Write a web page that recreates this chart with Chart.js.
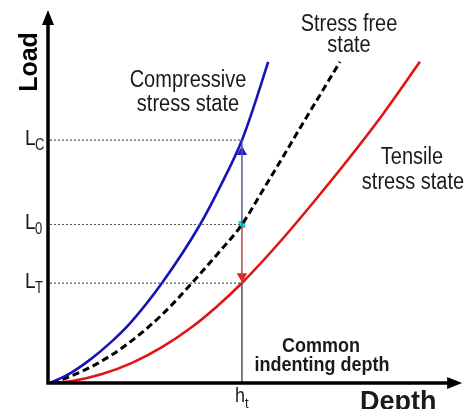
<!DOCTYPE html>
<html>
<head>
<meta charset="utf-8">
<script src="https://cdn.jsdelivr.net/npm/chart.js@4"></script>
<style>
    body { margin: 0; background: #fff; }
    canvas { display: block; }
</style>
</head>
<body>
<canvas id="myChart" width="466" height="409"></canvas>
<script>
// curve data (depth, load), arbitrary units 0..100
const compX = [0.5, 5.4, 10.2, 15.1, 20.0, 27.8, 37.1, 42.2, 47.3, 50.5, 53.7]
const compY = [0, 2.6, 6.2, 10.7, 16.0, 26.8, 42.5, 53.1, 65.1, 75.1, 86.1]

const freeX = [1.0, 4.6, 12.0, 19.3, 27.8, 35.1, 41.5, 47.3, 52.4, 57.3, 62.2, 67.1, 71.2]
const freeY = [0, 1.4, 5.2, 10.4, 18.3, 26.8, 34.8, 42.5, 51.7, 60.6, 69.7, 78.6, 86.1]

const tensX = [1.0, 5.9, 13.2, 20.5, 27.8, 35.1, 41.2, 47.3, 55.9, 64.4, 72.9, 81.5, 90.7]
const tensY = [0, 0.5, 2.4, 5.4, 9.6, 15.0, 20.5, 26.8, 37.0, 48.0, 59.5, 71.8, 86.1]

// common indenting depth and the three loads
const ht = 47.3
const levels = [65.1, 42.5, 26.8]
const levelSubs = ['C', '0', 'T']

const pts = (xs, ys) => xs.map((x, i) => ({x: x, y: ys[i]}))

const textColor = '#1a1a1a'

// small helper, text is a bit taller than wide in the picture
function label(ctx, str, x, y, font, align, sy) {
    ctx.save()
    ctx.translate(x, y)
    ctx.scale(1, sy || 1.15)
    ctx.font = font
    ctx.textAlign = align || 'center'
    ctx.textBaseline = 'alphabetic'
    ctx.fillStyle = textColor
    ctx.fillText(str, 0, 0)
    ctx.restore()
}

const decor = {
    id: 'decor',
    afterDatasetsDraw(chart) {
        const ctx = chart.ctx
        const xs = chart.scales.x
        const ys = chart.scales.y
        const x0 = xs.getPixelForValue(0)
        const y0 = ys.getPixelForValue(0)
        const xEnd = xs.getPixelForValue(101)
        const yEnd = ys.getPixelForValue(100)

        // axes with arrows
        ctx.save()
        ctx.strokeStyle = '#000'
        ctx.fillStyle = '#000'
        ctx.lineWidth = 3.5
        ctx.beginPath()
        ctx.moveTo(x0, y0 + 1.5)
        ctx.lineTo(x0, yEnd + 10)
        ctx.moveTo(x0 - 1.5, y0)
        ctx.lineTo(xEnd - 10, y0)
        ctx.stroke()
        ctx.beginPath()
        ctx.moveTo(x0, yEnd)
        ctx.lineTo(x0 - 6, yEnd + 15)
        ctx.lineTo(x0 + 6, yEnd + 15)
        ctx.closePath()
        ctx.fill()
        ctx.beginPath()
        ctx.moveTo(xEnd, y0)
        ctx.lineTo(xEnd - 15, y0 - 6)
        ctx.lineTo(xEnd - 15, y0 + 6)
        ctx.closePath()
        ctx.fill()
        ctx.restore()

        // axis titles
        ctx.save()
        ctx.translate(37, 62)
        ctx.rotate(-Math.PI / 2)
        ctx.font = 'bold 25px "Liberation Sans", Arial, sans-serif'
        ctx.textAlign = 'center'
        ctx.fillStyle = '#000'
        ctx.fillText('Load', 0, 0)
        ctx.restore()
        label(ctx, 'Depth', 360, 410, 'bold 27px "Liberation Sans", Arial, sans-serif', 'left', 1.05)

        // L_C, L_0, L_T
        levels.forEach((lv, i) => {
            const py = ys.getPixelForValue(lv)
            label(ctx, 'L', 25, py + 5, '19px "Liberation Sans", Arial, sans-serif', 'left', 1.2)
            label(ctx, levelSubs[i], 35, py + 10, '13px "Liberation Sans", Arial, sans-serif', 'left', 1.2)
        })

        // h_t
        const hx = xs.getPixelForValue(ht)
        label(ctx, 'h', hx - 7, 402, '18px "Liberation Sans", Arial, sans-serif', 'left', 1.1)
        label(ctx, 't', hx + 3, 408, '13px "Liberation Sans", Arial, sans-serif', 'left', 1.1)

        // curve names
        const f = '20px "Liberation Sans", Arial, sans-serif'
        label(ctx, 'Compressive', 188, 87, f)
        label(ctx, 'stress state', 188, 111, f)
        label(ctx, 'Stress free', 349, 31, f)
        label(ctx, 'state', 349, 52, f)
        label(ctx, 'Tensile', 412, 164, f)
        label(ctx, 'stress state', 413, 189, f)

        const fb = 'bold 18px "Liberation Sans", Arial, sans-serif'
        label(ctx, 'Common', 321, 352, fb, 'center', 1.1)
        label(ctx, 'indenting depth', 322, 371, fb, 'center', 1.1)
    }
}

const guide = {borderColor: '#555', borderWidth: 1.2, borderDash: [2, 2], pointRadius: 0, fill: false}

new Chart(document.getElementById('myChart'), {
    type: 'line',
    data: {
        datasets: [
            // dotted level lines
            ...levels.map(lv => Object.assign({data: [{x: 0.5, y: lv}, {x: ht, y: lv}]}, guide)),
            // common depth line
            {data: [{x: ht, y: 0}, {x: ht, y: levels[2]}], borderColor: '#555', borderWidth: 1.5, pointRadius: 0},
            {data: [{x: ht, y: levels[2]}, {x: ht, y: levels[1]}], borderColor: '#b04848', borderWidth: 1.5, pointRadius: 0},
            {data: [{x: ht, y: levels[1]}, {x: ht, y: levels[0]}], borderColor: '#585890', borderWidth: 1.5, pointRadius: 0},
            // curves
            {label: 'Compressive', data: pts(compX, compY), borderColor: '#1414b8', borderWidth: 2.6, pointRadius: 0, cubicInterpolationMode: 'monotone'},
            {label: 'Stress free', data: pts(freeX, freeY), borderColor: '#000', borderWidth: 3, borderDash: [7, 4], pointRadius: 0, cubicInterpolationMode: 'monotone'},
            {label: 'Tensile', data: pts(tensX, tensY), borderColor: '#e01414', borderWidth: 2.6, pointRadius: 0, cubicInterpolationMode: 'monotone'},
            // arrow heads and the stress free point
            {type: 'scatter', data: [{x: ht, y: 61.9}], pointStyle: 'triangle', pointRadius: 6, rotation: 0, backgroundColor: '#1a1ad0', borderColor: '#1a1ad0', borderWidth: 0},
            {type: 'scatter', data: [{x: ht, y: 28.6}], pointStyle: 'triangle', pointRadius: 6, rotation: 180, backgroundColor: '#e02020', borderColor: '#e02020', borderWidth: 0},
            {type: 'scatter', data: [{x: ht, y: levels[1]}], pointStyle: 'rect', pointRadius: 5, backgroundColor: '#00e6f0', borderColor: '#00e6f0', borderWidth: 0}
        ]
    },
    options: {
        responsive: false,
        animation: false,
        layout: {padding: {left: 48, top: 10, right: 8, bottom: 26}},
        scales: {
            x: {type: 'linear', min: 0, max: 100, display: false},
            y: {type: 'linear', min: 0, max: 100, display: false}
        },
        plugins: {legend: {display: false}, tooltip: {enabled: false}}
    },
    plugins: [decor]
})
</script>
</body>
</html>
